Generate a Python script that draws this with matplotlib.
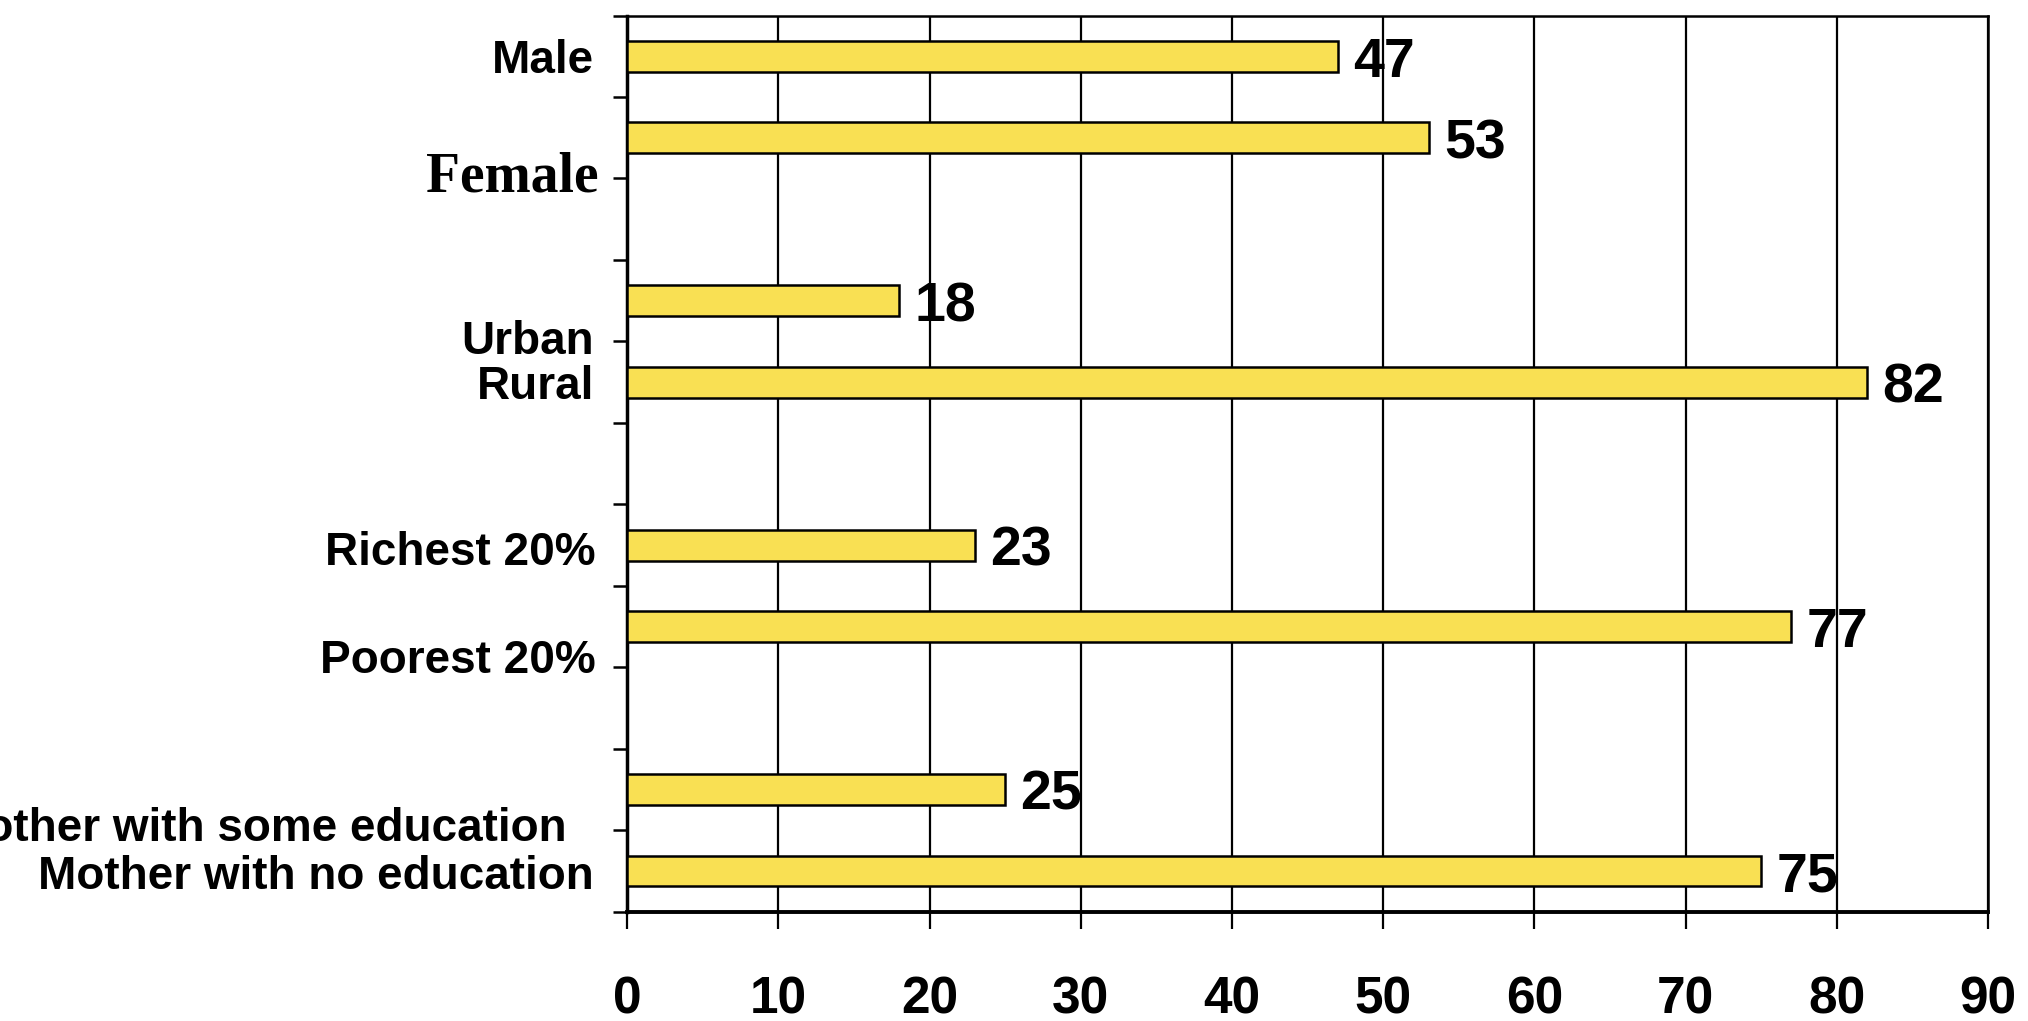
import matplotlib
matplotlib.use("Agg")
import matplotlib.pyplot as plt

# data, top to bottom
labels = ["Male", "Female", "Urban", "Rural", "Richest 20%", "Poorest 20%",
          "Mother with some education", "Mother with no education"]
values = [47, 53, 18, 82, 23, 77, 25, 75]
slots = [0, 1, 3, 4, 6, 7, 9, 10]          # row slot of each bar (gaps between groups)
xticks = [0, 10, 20, 30, 40, 50, 60, 70, 80, 90]

# where the category labels sit (baseline, in slot units) - they are a bit off in the original
label_y = [0.71, 2.16, 4.15, 4.71, 6.74, 8.07, 10.13, 10.72]
label_dx = [-24, -21, -24, -24, -23, -23, -44, -24]

plt.rcParams['font.family'] = ['Liberation Sans', 'DejaVu Sans']
plt.rcParams['font.weight'] = 'bold'

fig = plt.figure(figsize=(20.28, 10.21), dpi=100)
ax = fig.add_axes([0.3093, 0.107, 0.6710, 0.8778])

centers = [s + 0.5 for s in slots]
ax.barh(centers, values, height=0.38, color='#F9E053', edgecolor='black',
        linewidth=1.8, zorder=3)

for c, v in zip(centers, values):
    ax.annotate(str(v), xy=(v, c + 0.25), xytext=(11, 0), textcoords='offset points',
                ha='left', va='baseline', fontsize=40, fontweight='bold', zorder=4)

for lab, y, dx in zip(labels, label_y, label_dx):
    if lab == "Female":
        fam = ['Liberation Serif', 'DejaVu Serif']
        fs = 40
    else:
        fam = ['Liberation Sans', 'DejaVu Sans']
        fs = 33
    ax.annotate(lab, xy=(0, y), xycoords=('axes fraction', 'data'), xytext=(dx, 0),
                textcoords='offset points', ha='right', va='baseline',
                fontsize=fs, fontweight='bold', family=fam, annotation_clip=False)

ax.set_xlim(0, 90)
ax.set_ylim(11, 0)
ax.set_xticks(xticks)
ax.set_xticklabels([str(t) for t in xticks], fontsize=37, fontweight='bold')
ax.set_yticks(range(12))
ax.set_yticklabels([])

ax.xaxis.grid(True, color='black', linewidth=1.6, zorder=0)
ax.set_axisbelow(True)

ax.tick_params(axis='x', direction='out', length=12, width=1.6, pad=34)
ax.tick_params(axis='y', direction='out', length=10, width=1.8)

ax.spines['left'].set_linewidth(2.5)
ax.spines['bottom'].set_linewidth(2.8)
ax.spines['top'].set_linewidth(1.8)
ax.spines['right'].set_linewidth(1.8)

fig.savefig("out.png", dpi=100)
